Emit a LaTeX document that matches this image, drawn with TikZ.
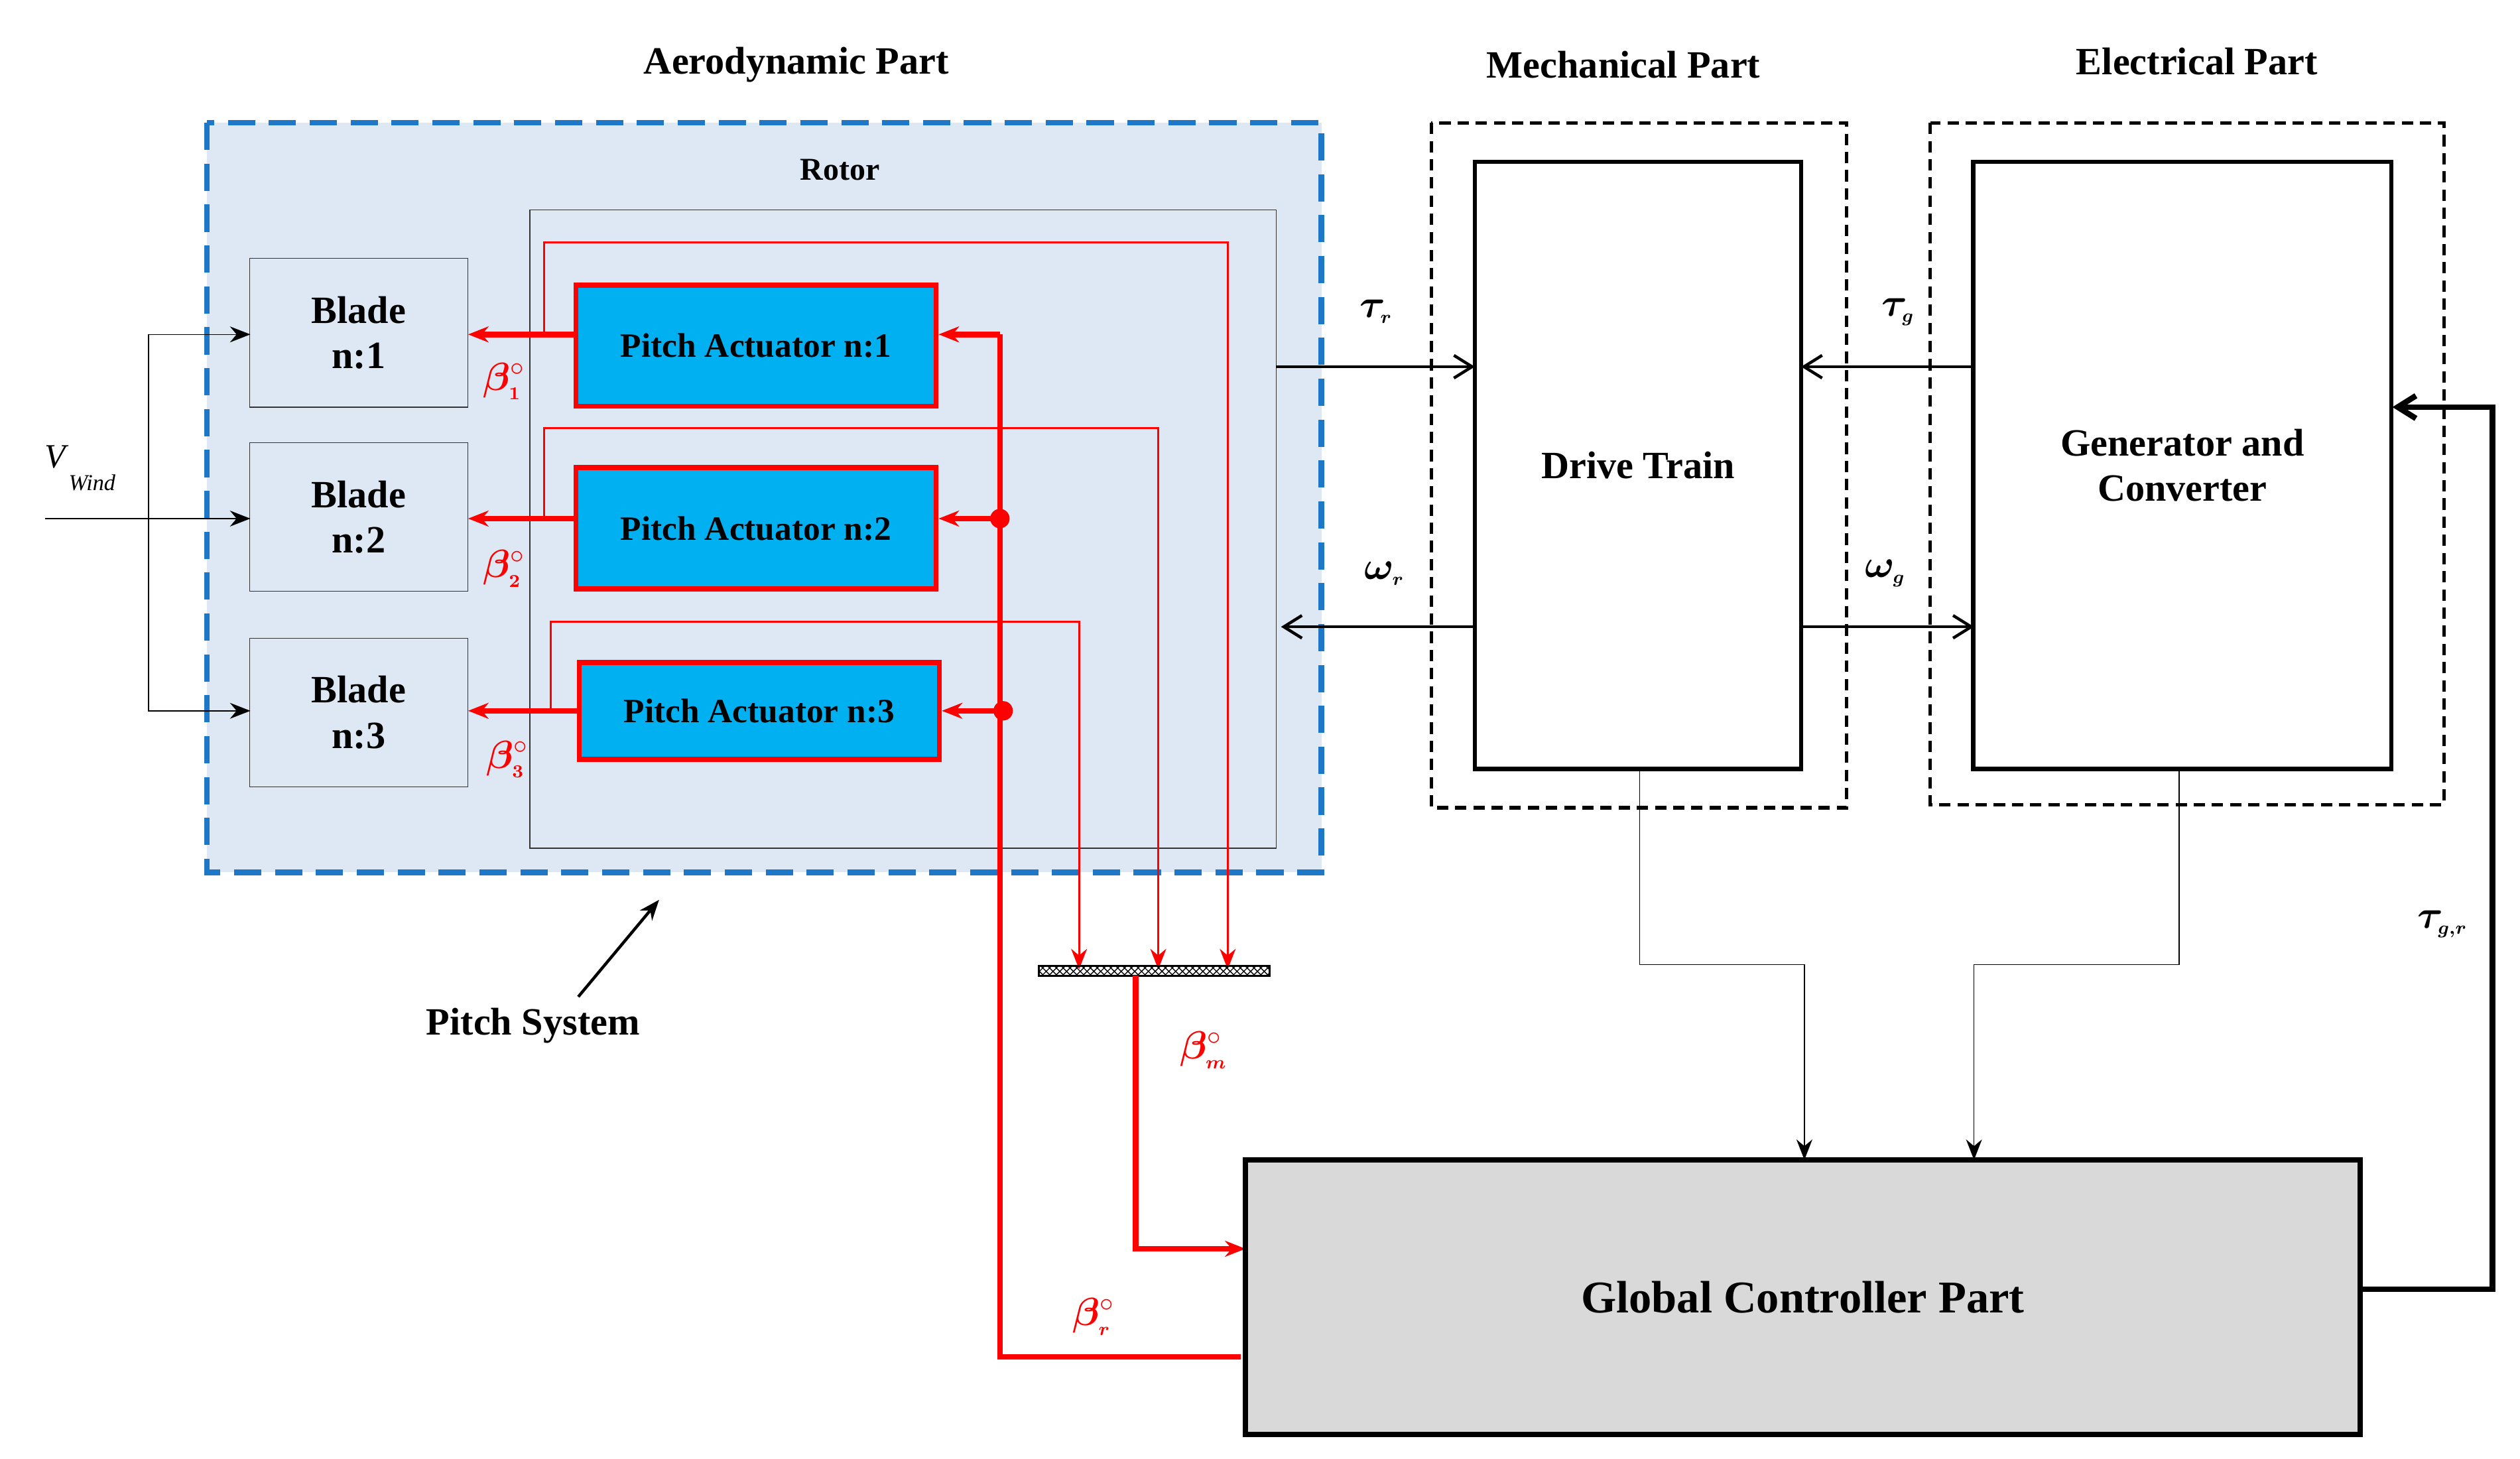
\documentclass[tikz,border=0pt]{standalone}
\usepackage{fontspec}
\usepackage{amsmath,bm}
\setmainfont{Liberation Serif}
\usetikzlibrary{arrows.meta,patterns}
\definecolor{lb}{HTML}{DDE8F4}
\definecolor{db}{HTML}{1F77C8}
\definecolor{cy}{HTML}{00B0F0}
\definecolor{rd}{HTML}{FF0000}
\definecolor{gy}{HTML}{D9D9D9}
\begin{document}
\begin{tikzpicture}[x=0.025cm,y=-0.025cm,
  lbl/.style={font=\bfseries\fontsize{17}{20}\selectfont,align=center},
  blade/.style={draw=black!80,thin,fill=lb,font=\bfseries\fontsize{17}{20}\selectfont,align=center,inner sep=0},
  act/.style={draw=rd,line width=2.2pt,fill=cy,font=\bfseries\fontsize{15}{18}\selectfont,inner sep=0},
  blk/.style={draw=black,line width=1.8pt,inner sep=0},
  rthin/.style={rd,line width=0.9pt},
  rthick/.style={rd,line width=2.5pt},
  ar/.style={-{Stealth[length=9pt,width=7pt]}},
  oa/.style={-{Straight Barb[length=8pt,width=10pt]},line width=1.3pt},
  gl/.style={rd,font=\fontsize{17}{20}\selectfont},
  bl/.style={font=\fontsize{17}{20}\selectfont}]
\useasboundingbox (0,0) rectangle (1560,903);
% aerodynamic
\draw[db,line width=2.5pt,dash pattern=on 12pt off 6pt,fill=lb] (128,76) rectangle (818,540);
\draw[black!80,thin] (328,130) rectangle (790,525);
\node[lbl,font=\bfseries\fontsize{14}{16}\selectfont] at (520,105) {Rotor};
\node[lbl] at (493,40) {Aerodynamic Part};
\node[lbl] at (1005,40) {Mechanical Part};
\node[lbl] at (1360,38) {Electrical Part};
\node[blade,minimum width=135*0.025cm,minimum height=92*0.025cm] (b1) at (222,206) {Blade\\n:1};
\node[blade,minimum width=135*0.025cm,minimum height=92*0.025cm] (b2) at (222,320) {Blade\\n:2};
\node[blade,minimum width=135*0.025cm,minimum height=92*0.025cm] (b3) at (222,441) {Blade\\n:3};
\node[act,minimum width=223*0.025cm,minimum height=75*0.025cm] (p1) at (468,214) {Pitch Actuator n:1};
\node[act,minimum width=223*0.025cm,minimum height=75*0.025cm] (p2) at (468,327) {Pitch Actuator n:2};
\node[act,minimum width=223*0.025cm,minimum height=60*0.025cm] (p3) at (470,440) {Pitch Actuator n:3};
% red arrows to blades
\draw[rthick,ar] (357,207) -- (b1.east |- 0,207);
\draw[rthick,ar] (357,321) -- (b2.east |- 0,321);
\draw[rthick,ar] (359,440) -- (b3.east |- 0,440);
\node[gl] at (312,236) {$\bm{\beta_{\scriptscriptstyle 1}}^{\circ}$};
\node[gl] at (312,352) {$\bm{\beta_{\scriptscriptstyle 2}}^{\circ}$};
\node[gl] at (314,470) {$\bm{\beta_{\scriptscriptstyle 3}}^{\circ}$};
% measurement thin lines
\coordinate (m1) at (760,600);\coordinate (m2) at (717,600);\coordinate (m3) at (668,600);
\draw[rthin,ar] (337,207) -- (337,150) -- (760,150) -- (m1);
\draw[rthin,ar] (337,321) -- (337,265) -- (717,265) -- (m2);
\draw[rthin,ar] (341,440) -- (341,385) -- (668,385) -- (m3);
\draw[pattern=crosshatch,thick] (643,598) rectangle (786,604);
\coordinate (bm) at (703,604);
\draw[rthick,ar] (bm) -- (703,773) -- (771,773);
\node[gl] at (745,650) {$\bm{\beta_{\scriptscriptstyle m}}^{\circ}$};
% reference red thick
\draw[rthick] (768,840) -- (619,840) -- (619,207);
\draw[rthick,ar] (619,207) -- (p1.east |- 0,207);
\draw[rthick,ar] (619,321) -- (p2.east |- 0,321);
\draw[rthick,ar] (619,440) -- (p3.east);
\fill[rd] (619,321) circle (6) (621,440) circle (6);
\node[gl] at (677,815) {$\bm{\beta_{\scriptscriptstyle r}}^{\circ}$};
% mechanical / electrical
\draw[black,line width=1.5pt,dash pattern=on 5pt off 3pt] (886,76) rectangle (1143,500);
\draw[black,line width=1.5pt,dash pattern=on 5pt off 3pt] (1195,76) rectangle (1513,498);
\node[blk,minimum width=202*0.025cm,minimum height=376*0.025cm,lbl] (dt) at (1014,288) {Drive Train};
\node[blk,minimum width=259*0.025cm,minimum height=376*0.025cm,lbl] (gen) at (1351,288) {Generator and\\Converter};
\draw[oa] (790,227) -- (913,227);
\draw[oa] (913,388) -- (793,388);
\draw[oa] (1222,227) -- (1115,227);
\draw[oa] (1115,388) -- (1222,388);
\node[bl] at (852,193) {$\bm{\tau_{\scriptscriptstyle r}}$};
\node[bl] at (857,355) {$\bm{\omega_{\scriptscriptstyle r}}$};
\node[bl] at (1175,193) {$\bm{\tau_{\scriptscriptstyle g}}$};
\node[bl] at (1167,355) {$\bm{\omega_{\scriptscriptstyle g}}$};
% controller
\node[blk,fill=gy,line width=2.5pt,minimum width=690*0.025cm,minimum height=170*0.025cm,lbl,font=\bfseries\fontsize{20}{24}\selectfont] (gc) at (1116,803) {Global Controller Part};
\draw[ar,thin] (1015,476) -- (1015,597) -- (1117,597) -- (1117,718);
\draw[ar,thin] (1349,476) -- (1349,597) -- (1222,597) -- (1222,718);
\draw[line width=2.5pt,-{Straight Barb[length=8pt,width=10pt]}] (1461,798) -- (1543,798) -- (1543,252) -- (1481,252);
\node[bl] at (1512,572) {$\bm{\tau_{\scriptscriptstyle g,r}}$};
% wind
\draw[ar,thin] (28,321) -- (155,321);
\draw[ar,thin] (92,321) -- (92,207) -- (155,207);
\draw[ar,thin] (92,321) -- (92,440) -- (155,440);
\node[font=\itshape\fontsize{15}{18}\selectfont] at (34,283) {V};
\node[font=\itshape\fontsize{10}{12}\selectfont] at (57,299) {Wind};
\node[lbl] at (330,635) {Pitch System};
\draw[ar,line width=1.3pt] (358,617) -- (408,557);
\end{tikzpicture}
\end{document}
